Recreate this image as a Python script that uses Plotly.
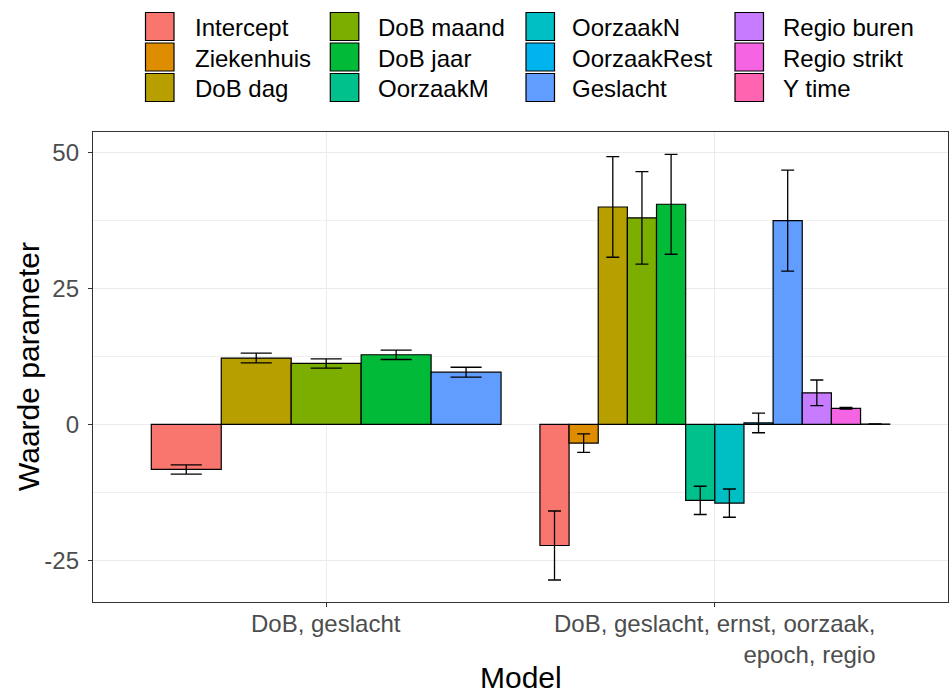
import plotly.graph_objects as go

# Model terms and their fill colours (default hue palette, 12 levels)
terms = ["Intercept", "Ziekenhuis", "DoB dag", "DoB maand", "DoB jaar", "OorzaakM",
         "OorzaakN", "OorzaakRest", "Geslacht", "Regio buren", "Regio strikt", "Y time"]
term_colors = ["#F8766D", "#DE8C00", "#B79F00", "#7CAE00", "#00BA38", "#00C08B",
               "#00BFC4", "#00B4F0", "#619CFF", "#C77CFF", "#F564E3", "#FF64B0"]

model_labels = ["DoB, geslacht", "DoB, geslacht, ernst, oorzaak,<br>epoch, regio"]

# Model 1: DoB, geslacht
model1_terms = ["Intercept", "DoB dag", "DoB maand", "DoB jaar", "Geslacht"]
model1_est = [-8.3, 12.2, 11.2, 12.8, 9.6]
model1_err = [0.85, 0.9, 0.85, 0.87, 0.9]

# Model 2: DoB, geslacht, ernst, oorzaak, epoch, regio
model2_terms = terms
model2_est = [-22.3, -3.45, 40.0, 38.0, 40.5, -14.0, -14.5, 0.25, 37.5, 5.8, 2.95, 0.05]
model2_err = [6.35, 1.7, 9.25, 8.5, 9.2, 2.6, 2.6, 1.8, 9.3, 2.36, 0.15, 0.02]

y_ticks = [-25, 0, 25, 50]
y_tick_text = ["-25", "0", "25", "50"]

FONT = "Liberation Sans"
W, H = 950, 696
M_L, M_R, M_T, M_B = 93, 2, 132, 94
plot_w = W - M_L - M_R
plot_h = H - M_T - M_B
x_range = [0.4, 2.6]
y_range = [-32.7, 53.8]

color_of = dict(zip(terms, term_colors))


def px_x(px):
    return (px - M_L) / plot_w


def px_y(py):
    return (M_T + plot_h - py) / plot_h


fig = go.Figure()

groups = [(model1_terms, model1_est, model1_err),
          (model2_terms, model2_est, model2_err)]
units_to_px = plot_w / (x_range[1] - x_range[0])
for gi, (names, est, err) in enumerate(groups):
    center = gi + 1
    n = len(names)
    w = 0.9 / n
    cap_half = 0.4 / n / 2 * units_to_px
    for i, (name, v, e) in enumerate(zip(names, est, err)):
        x = center - 0.45 + w * (i + 0.5)
        fig.add_trace(go.Bar(
            x=[x], y=[v], width=w, name=name, showlegend=False,
            marker=dict(color=color_of[name], line=dict(color="black", width=1.2)),
            error_y=dict(type="data", array=[e], color="black",
                         thickness=1.3, width=cap_half),
        ))

# Legend laid out column by column, three rows
key_left = [145.5, 330.3, 526, 735]
text_left = [192.7, 375.8, 569.7, 780.6]
row_mid = [26.5, 57, 87.5]
key_w, key_h = 28.5, 28
shapes = []
annotations = []
for k, (name, col) in enumerate(zip(terms, term_colors)):
    c, r = divmod(k, 3)
    kx, ky = key_left[c], row_mid[r]
    shapes.append(dict(
        type="rect", xref="paper", yref="paper",
        x0=px_x(kx), x1=px_x(kx + key_w),
        y0=px_y(ky + key_h / 2), y1=px_y(ky - key_h / 2),
        fillcolor=col, line=dict(color="black", width=1.2), layer="above"))
    annotations.append(dict(
        text=name, xref="paper", yref="paper", x=px_x(text_left[c]), y=px_y(ky + 1),
        xanchor="left", yanchor="middle", showarrow=False,
        font=dict(family=FONT, size=24, color="black")))

# Category labels under the x axis
for xi, lab in enumerate(model_labels, start=1):
    annotations.append(dict(
        text=lab, xref="x", yref="paper", x=xi, y=0, yanchor="top", xanchor="center",
        yshift=-6, align="right", showarrow=False,
        font=dict(family=FONT, size=24, color="#4D4D4D")))

annotations.append(dict(
    text="Model", xref="paper", yref="paper", x=0.5, y=px_y(677),
    xanchor="center", yanchor="middle", showarrow=False,
    font=dict(family=FONT, size=30, color="black")))
annotations.append(dict(
    text="Waarde parameter", xref="paper", yref="paper", x=px_x(28), y=0.5,
    xanchor="center", yanchor="middle", textangle=-90, showarrow=False,
    font=dict(family=FONT, size=30, color="black")))

fig.update_layout(
    width=W, height=H,
    margin=dict(l=M_L, r=M_R, t=M_T, b=M_B),
    barmode="overlay",
    plot_bgcolor="white", paper_bgcolor="white",
    font=dict(family=FONT),
    shapes=shapes, annotations=annotations,
    showlegend=False,
)
fig.update_xaxes(
    range=x_range, tickvals=[1, 2], showticklabels=False,
    ticks="outside", ticklen=4, tickcolor="#333333", tickwidth=1.2,
    showgrid=True, gridcolor="#EBEBEB", gridwidth=1.3,
    showline=True, linecolor="#333333", linewidth=1.3, mirror=True,
    zeroline=False,
)
fig.update_yaxes(
    range=y_range, tickvals=y_ticks, ticktext=y_tick_text,
    ticks="outside", ticklen=4, tickcolor="#333333", tickwidth=1.2,
    tickfont=dict(family=FONT, size=24, color="#4D4D4D"),
    ticklabelstandoff=4,
    showgrid=True, gridcolor="#EBEBEB", gridwidth=1.3,
    minor=dict(tickvals=[-12.5, 12.5, 37.5], showgrid=True,
               gridcolor="#EFEFEF", gridwidth=1),
    showline=True, linecolor="#333333", linewidth=1.3, mirror=True,
    zeroline=False,
)

fig.write_html("out.html")
